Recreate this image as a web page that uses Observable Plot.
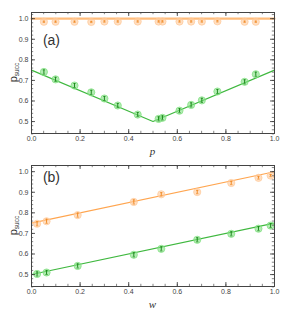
<!DOCTYPE html>
<html><head><meta charset="utf-8">
<script src="https://cdn.jsdelivr.net/npm/d3@7"></script>
<script src="https://cdn.jsdelivr.net/npm/@observablehq/plot@0.6"></script>
<style>
body{margin:0;background:#fff;font-family:"Liberation Sans",Arial,sans-serif;}
#c svg{display:block;}
</style></head>
<body><div id="c"></div>
<script>
// Panel (a)
const pA = [0.051,0.099,0.177,0.246,0.300,0.355,0.437,0.523,0.539,0.609,0.657,0.701,0.765,0.877,0.923];
const orangeA = [0.985,0.985,0.985,0.984,0.986,0.986,0.986,0.986,0.986,0.986,0.986,0.986,0.987,0.985,0.985];
const orangeAerr = [0.003,0.003,0.003,0.003,0.003,0.003,0.003,0.003,0.003,0.003,0.003,0.003,0.003,0.003,0.003];
const greenA = [0.741,0.705,0.675,0.642,0.612,0.578,0.534,0.513,0.518,0.553,0.581,0.603,0.646,0.693,0.730];
const greenAerr = [0.01,0.01,0.01,0.01,0.01,0.01,0.01,0.01,0.01,0.01,0.01,0.01,0.01,0.01,0.01];
const theoryPA = [0, 0.5, 1];
const theoryGreenA = [0.75, 0.5, 0.75];
const theoryOrangeA = [1.0, 1.0, 1.0];
// Panel (b)
const wB = [0.023,0.062,0.19,0.421,0.534,0.682,0.822,0.934,0.984];
const orangeB = [0.747,0.759,0.789,0.853,0.890,0.901,0.945,0.970,0.981];
const orangeBerr = [0.01,0.01,0.01,0.01,0.008,0.008,0.008,0.006,0.005];
const greenB = [0.503,0.510,0.542,0.596,0.625,0.669,0.698,0.723,0.738];
const greenBerr = [0.01,0.01,0.01,0.01,0.01,0.01,0.01,0.01,0.01];
const theoryWB = [0, 1];
const theoryOrangeB = [0.75, 1.0];
const theoryGreenB = [0.5, 0.75];
// Ticks
const xMajor = [0,0.2,0.4,0.6,0.8,1.0];
const xMinor = d3.range(0,1.0001,0.05);
const yMajor = [0.5,0.6,0.7,0.8,0.9,1.0];
const yMinor = d3.range(0.44,1.031,0.02).map(v=>+v.toFixed(2));

const W = 298, H = 160;
const GREEN = "#3fb83f", GREEN_FILL = "#80e080", GREEN_DARK = "#1e8a1e";
const ORANGE = "#ffa54f", ORANGE_FILL = "#ffc999", ORANGE_DARK = "#f08a24";

const cap = {draw(ctx, size){ const r = Math.sqrt(size)/2; ctx.moveTo(-r,0); ctx.lineTo(r,0); }};

function panel({xs, series, theory, xlabel, tag, tagY, mt, mb, thickFlat}) {
  const ml = 31, mr = 24;
  const fh = H - mt - mb, fw = W - ml - mr;
  const marks = [];
  // theory lines
  for (const t of theory) {
    const rows = t.x.map((x,i)=>({x, y:t.y[i]}));
    marks.push(Plot.line(rows, {x:"x", y:"y", stroke:t.color, strokeWidth:t.w, strokeOpacity:t.o}));
  }
  for (const s of series) {
    const rows = xs.map((x,i)=>({x, y:s.y[i], e:s.e[i]}));
    marks.push(Plot.dot(rows, {x:"x", y:"y", r:3.6, fill:s.fill, fillOpacity:0.6, stroke:s.fill, strokeOpacity:0.9, strokeWidth:0.8}));
    marks.push(Plot.ruleX(rows, {x:"x", y1:d=>d.y-d.e, y2:d=>d.y+d.e, stroke:s.dark, strokeWidth:1}));
    marks.push(Plot.dot(rows, {x:"x", y:d=>d.y-d.e, symbol:cap, r:1.3, stroke:s.dark, strokeWidth:0.8}));
    marks.push(Plot.dot(rows, {x:"x", y:d=>d.y+d.e, symbol:cap, r:1.3, stroke:s.dark, strokeWidth:0.8}));
  }
  // inward ticks
  const ty = "#333";
  marks.push(Plot.tickX(xMajor, {x:d=>d, insetTop: fh-4, stroke:ty, strokeWidth:0.8}));
  marks.push(Plot.tickX(xMinor, {x:d=>d, insetTop: fh-2.2, stroke:ty, strokeWidth:0.6}));
  marks.push(Plot.tickX(xMajor, {x:d=>d, insetBottom: fh-4, stroke:ty, strokeWidth:0.8}));
  marks.push(Plot.tickX(xMinor, {x:d=>d, insetBottom: fh-2.2, stroke:ty, strokeWidth:0.6}));
  marks.push(Plot.tickY(yMajor, {y:d=>d, insetRight: fw-4, stroke:ty, strokeWidth:0.8}));
  marks.push(Plot.tickY(yMinor, {y:d=>d, insetRight: fw-2.2, stroke:ty, strokeWidth:0.6}));
  marks.push(Plot.tickY(yMajor, {y:d=>d, insetLeft: fw-4, stroke:ty, strokeWidth:0.8}));
  marks.push(Plot.tickY(yMinor, {y:d=>d, insetLeft: fw-2.2, stroke:ty, strokeWidth:0.6}));
  marks.push(Plot.axisX({ticks:xMajor, tickSize:0, tickPadding:3, tickFormat:d3.format(".1f"), fontSize:7, fill:"#444", label:null}));
  marks.push(Plot.axisY({ticks:yMajor, tickSize:0, tickPadding:3, tickFormat:d3.format(".1f"), fontSize:7, fill:"#444", label:null}));
  marks.push(Plot.frame({stroke:"#444", strokeWidth:1}));
  marks.push(Plot.text([tag], {x:0.047, y:tagY, text:d=>d, textAnchor:"start", fontSize:14, fill:"#333"}));
  const svg = Plot.plot({
    width: W, height: H, marginLeft: ml, marginRight: mr, marginTop: mt, marginBottom: mb,
    x: {domain:[0,1]}, y: {domain:[0.442,1.03]},
    style: {background:"white", fontFamily:"Liberation Sans, Arial, sans-serif"},
    marks
  });
  const s = d3.select(svg);
  // x label (italic serif)
  s.append("text").attr("x", ml + fw*0.5 ).attr("y", mt + fh + 22)
    .attr("text-anchor","middle").attr("font-family","Liberation Serif, DejaVu Serif, serif")
    .attr("font-style","italic").attr("font-size",11).attr("fill","#333").text(xlabel);
  // y label p_succ
  const yl = s.append("text").attr("transform",`translate(17,${mt+fh*0.5}) rotate(-90)`)
    .attr("text-anchor","middle").attr("font-size",11).attr("fill","#333");
  yl.append("tspan").text("p");
  yl.append("tspan").attr("font-size",6.5).attr("dy",2).text("succ");
  return svg;
}

const c = document.getElementById("c");
c.appendChild(panel({
  xs: pA,
  series: [
    {y: orangeA, e: orangeAerr, fill: ORANGE_FILL, dark: ORANGE_DARK},
    {y: greenA, e: greenAerr, fill: GREEN_FILL, dark: GREEN_DARK}
  ],
  theory: [
    {x: theoryPA, y: theoryOrangeA, color: ORANGE, w: 2.2, o: 0.75},
    {x: theoryPA, y: theoryGreenA, color: GREEN, w: 1.1, o: 1}
  ],
  xlabel: "p", tag: "(a)", tagY: 0.892, mt: 12, mb: 27
}));
c.appendChild(panel({
  xs: wB,
  series: [
    {y: orangeB, e: orangeBerr, fill: ORANGE_FILL, dark: ORANGE_DARK},
    {y: greenB, e: greenBerr, fill: GREEN_FILL, dark: GREEN_DARK}
  ],
  theory: [
    {x: theoryWB, y: theoryOrangeB, color: ORANGE, w: 1.1, o: 1},
    {x: theoryWB, y: theoryGreenB, color: GREEN, w: 1.1, o: 1}
  ],
  xlabel: "w", tag: "(b)", tagY: 0.973, mt: 5, mb: 34
}));
</script></body></html>
